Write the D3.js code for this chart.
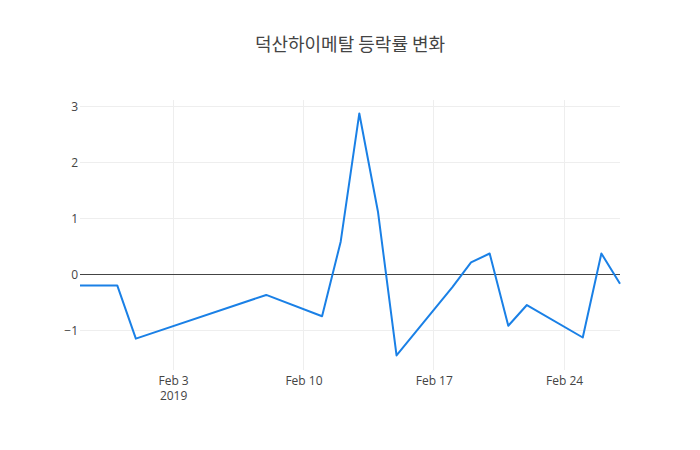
<!DOCTYPE html>
<html>
<head>
<meta charset="utf-8">
<script src="https://cdn.jsdelivr.net/npm/d3@7"></script>
<style>
  body { margin: 0; background: #fff; }
  text { font-family: "Open Sans", "Noto Sans CJK KR", sans-serif; }
</style>
</head>
<body>
<div id="chart"></div>
<script>
const dates = ["2019-01-29", "2019-01-30", "2019-01-31", "2019-02-01", "2019-02-08",
  "2019-02-11", "2019-02-12", "2019-02-13", "2019-02-14", "2019-02-15",
  "2019-02-18", "2019-02-19", "2019-02-20", "2019-02-21", "2019-02-22",
  "2019-02-25", "2019-02-26", "2019-02-27"];
const changes = [-0.2, -0.2, -0.2, -1.15, -0.37,
  -0.75, 0.58, 2.87, 1.12, -1.45,
  -0.23, 0.21, 0.37, -0.92, -0.55,
  -1.13, 0.37, -0.17];
const yTicks = [-1, 0, 1, 2, 3];
const xTicks = ["2019-02-03", "2019-02-10", "2019-02-17", "2019-02-24"];
const title = "덕산하이메탈 등락률 변화";

const width = 700;
const height = 450;
const margin = { top: 100, right: 80, bottom: 80, left: 80 };

const parse = d3.utcParse("%Y-%m-%d");
const data = dates.map((d, i) => ({ date: parse(d), value: changes[i] }));

const svg = d3.select("#chart").append("svg")
  .attr("width", width)
  .attr("height", height);

const x = d3.scaleUtc()
  .domain(d3.extent(data, d => d.date))
  .range([margin.left, width - margin.right]);

const y = d3.scaleLinear()
  .domain([-1.71, 3.11])
  .range([height - margin.bottom, margin.top]);

// grid
svg.append("g")
  .attr("shape-rendering", "crispEdges")
  .selectAll("line")
  .data(xTicks.map(parse))
  .join("line")
  .attr("x1", d => x(d)).attr("x2", d => x(d))
  .attr("y1", margin.top).attr("y2", height - margin.bottom)
  .attr("stroke", "#eee");

svg.append("g")
  .attr("shape-rendering", "crispEdges")
  .selectAll("line")
  .data(yTicks.filter(d => d !== 0))
  .join("line")
  .attr("x1", margin.left).attr("x2", width - margin.right)
  .attr("y1", d => y(d)).attr("y2", d => y(d))
  .attr("stroke", "#eee");

// y axis labels
const yAxis = svg.append("g")
  .attr("transform", `translate(${margin.left},0)`)
  .call(d3.axisLeft(y).tickValues(yTicks).tickSize(0).tickPadding(2)
    .tickFormat(d => d < 0 ? "\u2212" + Math.abs(d) : d));
yAxis.select(".domain").remove();
yAxis.selectAll("text").attr("fill", "#444").style("font-size", "12px");

// x axis labels
const xAxis = svg.append("g")
  .attr("transform", `translate(0,${height - margin.bottom})`)
  .call(d3.axisBottom(x).tickValues(xTicks.map(parse)).tickSize(0).tickPadding(6)
    .tickFormat(d3.utcFormat("%b %-d")));
xAxis.select(".domain").remove();
xAxis.selectAll("text").attr("fill", "#444").style("font-size", "12px");
xAxis.selectAll(".tick").filter((d, i) => i === 0)
  .append("text")
  .attr("y", 21.5)
  .attr("dy", "0.71em")
  .attr("fill", "#444")
  .style("font-size", "12px")
  .text("2019");

// zero line
svg.append("line")
  .attr("shape-rendering", "crispEdges")
  .attr("x1", margin.left).attr("x2", width - margin.right)
  .attr("y1", y(0)).attr("y2", y(0))
  .attr("stroke", "#444")
  .attr("stroke-width", 1);

const line = d3.line()
  .x(d => x(d.date))
  .y(d => y(d.value));

svg.append("path")
  .datum(data)
  .attr("fill", "none")
  .attr("stroke", "#1a80e6")
  .attr("stroke-width", 2)
  .attr("stroke-linejoin", "round")
  .attr("d", line);

svg.append("text")
  .attr("x", width / 2)
  .attr("y", 51)
  .attr("text-anchor", "middle")
  .attr("fill", "#444")
  .style("font-size", "18px")
  .style("font-family", "'Noto Sans CJK KR', sans-serif")
  .text(title);
</script>
</body>
</html>
